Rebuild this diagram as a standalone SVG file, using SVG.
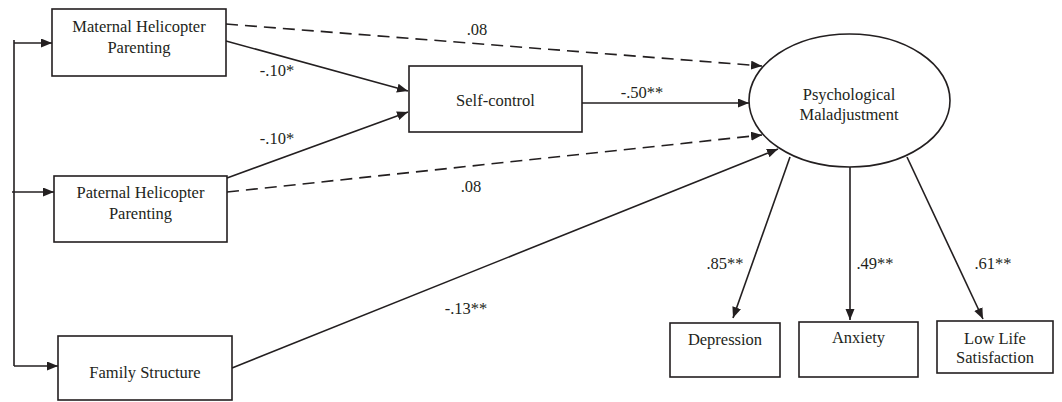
<svg xmlns="http://www.w3.org/2000/svg" width="1062" height="402" viewBox="0 0 1062 402">
<defs>
<marker id="ah" markerUnits="userSpaceOnUse" markerWidth="12" markerHeight="10" refX="11" refY="4.5" orient="auto">
<path d="M0,0 L11,4.5 L0,9 z" fill="#231f20"/>
</marker>
<style>
.box{fill:#fff;stroke:#231f20;stroke-width:1.6}
text{font-family:'Liberation Serif','Times New Roman',Times,'DejaVu Serif',serif;font-size:16.5px;fill:#231f20;text-anchor:middle}
.ln{fill:none;stroke:#231f20;stroke-width:1.6}
.sol{fill:none;stroke:#231f20;stroke-width:1.6;marker-end:url(#ah)}
.dash{fill:none;stroke:#231f20;stroke-width:1.6;stroke-dasharray:12 7;marker-end:url(#ah)}
</style>
</defs>
<rect width="1062" height="402" fill="#fff"/>
<g id="connectors">
<line class="ln" x1="14" y1="40" x2="14" y2="366"/>
<line class="sol" x1="14" y1="43" x2="52" y2="43"/>
<line class="sol" x1="12" y1="192" x2="54" y2="192"/>
<line class="sol" x1="14" y1="366" x2="58" y2="366"/>
<line class="dash" x1="226" y1="24" x2="762" y2="66"/>
<line class="sol" x1="226" y1="41" x2="408" y2="91"/>
<line class="sol" x1="582" y1="103" x2="749" y2="103"/>
<line class="sol" x1="227" y1="178" x2="408" y2="112"/>
<line class="dash" x1="227" y1="192" x2="762" y2="135"/>
<line class="sol" x1="232" y1="368" x2="778" y2="149"/>
<line class="sol" x1="790" y1="157" x2="733" y2="318"/>
<line class="sol" x1="850" y1="167" x2="850" y2="320"/>
<line class="sol" x1="907" y1="157" x2="983" y2="319"/>
<text font-family="Liberation Serif, serif" x="477" y="35">.08</text>
<text font-family="Liberation Serif, serif" x="277" y="76">-.10*</text>
<text font-family="Liberation Serif, serif" x="642" y="98">-.50**</text>
<text font-family="Liberation Serif, serif" x="277" y="144">-.10*</text>
<text font-family="Liberation Serif, serif" x="471" y="192">.08</text>
<text font-family="Liberation Serif, serif" x="466" y="314">-.13**</text>
<text font-family="Liberation Serif, serif" x="725" y="269">.85**</text>
<text font-family="Liberation Serif, serif" x="875" y="269">.49**</text>
<text font-family="Liberation Serif, serif" x="993" y="269">.61**</text>
</g>
<g id="maternal">
<rect class="box" x="52" y="9" width="174" height="67"/>
<text font-family="Liberation Serif, serif" x="139" y="32">Maternal Helicopter</text>
<text font-family="Liberation Serif, serif" x="139" y="53">Parenting</text>
</g>
<g id="paternal">
<rect class="box" x="54" y="176" width="173" height="66"/>
<text font-family="Liberation Serif, serif" x="140.5" y="198">Paternal Helicopter</text>
<text font-family="Liberation Serif, serif" x="140.5" y="219">Parenting</text>
</g>
<g id="family">
<rect class="box" x="58" y="336" width="174" height="64"/>
<text font-family="Liberation Serif, serif" x="145" y="378">Family Structure</text>
</g>
<g id="selfcontrol">
<rect class="box" x="409" y="66" width="173" height="66"/>
<text font-family="Liberation Serif, serif" x="495.5" y="106">Self-control</text>
</g>
<g id="psych">
<ellipse class="box" cx="849.5" cy="100.5" rx="100.5" ry="66.5"/>
<text font-family="Liberation Serif, serif" x="849" y="100">Psychological</text>
<text font-family="Liberation Serif, serif" x="849" y="120">Maladjustment</text>
</g>
<g id="depression">
<rect class="box" x="670" y="323" width="110" height="54"/>
<text font-family="Liberation Serif, serif" x="725" y="345">Depression</text>
</g>
<g id="anxiety">
<rect class="box" x="799" y="322" width="119" height="55"/>
<text font-family="Liberation Serif, serif" x="858.5" y="343">Anxiety</text>
</g>
<g id="lls">
<rect class="box" x="937" y="321" width="116" height="52"/>
<text font-family="Liberation Serif, serif" x="995" y="344">Low Life</text>
<text font-family="Liberation Serif, serif" x="995" y="363">Satisfaction</text>
</g>
</svg>
